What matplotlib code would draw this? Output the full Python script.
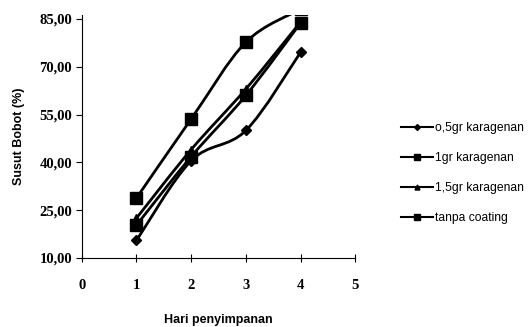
import numpy as np
import matplotlib
matplotlib.use("Agg")
import matplotlib.pyplot as plt
from matplotlib.path import Path
from matplotlib.patches import PathPatch
from matplotlib.lines import Line2D

hari = [1, 2, 3, 4]
seri_05 = [15.5, 40.5, 50.0, 74.5]
seri_1 = [28.8, 53.6, 77.7, 88.0]
seri_15 = [22.5, 44.0, 63.0, 84.0]
tanpa = [20.3, 41.8, 61.0, 83.7]
labels = ["o,5gr karagenan", "1gr karagenan", "1,5gr karagenan", "tanpa coating"]
markers = ["D", "s", "^", "s"]
msizes = [5, 8, 6, 8]
ytick_vals = [10, 25, 40, 55, 70, 85]

sans = ['Liberation Sans', 'DejaVu Sans']
serif = ['Liberation Serif', 'DejaVu Serif']


def smooth_path(x, y):
    # excel-like smoothed line: cubic bezier between points
    x = np.asarray(x, float)
    y = np.asarray(y, float)
    pts = np.column_stack([x, y])
    verts = [pts[0]]
    codes = [Path.MOVETO]
    n = len(pts)
    for i in range(n - 1):
        p0 = pts[i - 1] if i > 0 else pts[i]
        p1 = pts[i]
        p2 = pts[i + 1]
        p3 = pts[i + 2] if i + 2 < n else pts[i + 1]
        c1 = p1 + (p2 - p0) / 6.0
        c2 = p2 - (p3 - p1) / 6.0
        verts += [c1, c2, p2]
        codes += [Path.CURVE4] * 3
    return Path(verts, codes)


fig = plt.figure(figsize=(5.31, 3.27), dpi=100)
ax = fig.add_axes([0.154, 0.211, 0.515, 0.743])

for ys, m, ms in zip([seri_05, seri_1, seri_15, tanpa], markers, msizes):
    patch = PathPatch(smooth_path(hari, ys), facecolor='none', edgecolor='black', lw=2.0)
    ax.add_patch(patch)
    ax.plot(hari, ys, linestyle='none', marker=m, ms=ms, color='black')

ax.set_xlim(0, 5)
ax.set_ylim(10, 86.2)
ax.set_xticks(range(0, 6))
ax.set_yticks(ytick_vals)
ax.set_yticklabels([("%.2f" % v).replace(".", ",") for v in ytick_vals])
for s in ['top', 'right']:
    ax.spines[s].set_visible(False)
ax.tick_params(axis='x', direction='inout', length=6, labelsize=10.5, pad=12)
ax.tick_params(axis='y', direction='out', length=4, labelsize=10.5, pad=3)
for t in ax.get_xticklabels() + ax.get_yticklabels():
    t.set_family(serif)
    t.set_fontweight('bold')

ax.set_ylabel("Susut Bobot (%)", family=sans, fontweight='bold', fontsize=9, labelpad=10)
ax.set_xlabel("Hari penyimpanan", family=sans, fontweight='bold', fontsize=9, labelpad=16)

handles = [Line2D([], [], color='black', lw=1.5, marker=m, ms=ms * 0.6) for m, ms in zip(markers, msizes)]
fig.legend(handles, labels, loc='upper left', bbox_to_anchor=(0.735, 0.66), frameon=False,
           prop={'family': sans, 'size': 8.7}, handlelength=2.6, labelspacing=1.5, handletextpad=0.2)

fig.savefig("out.png", dpi=100)
